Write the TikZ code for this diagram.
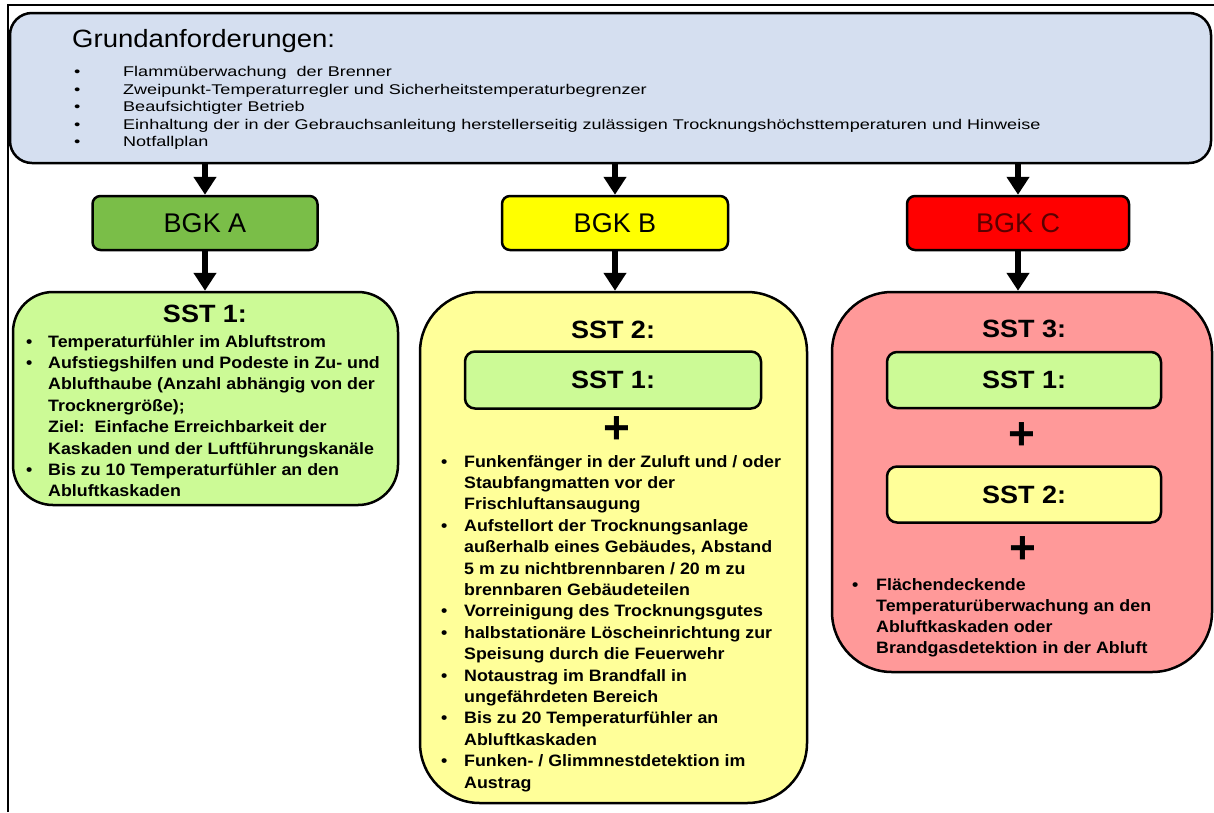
\documentclass[tikz,border=0pt]{standalone}
\usepackage{fontspec}
\setmainfont{Liberation Sans}
\newfontfamily\ttlfont[FakeStretch=1.1]{Liberation Sans}
\newfontfamily\topfont[FakeStretch=1.28]{Liberation Sans}
\newfontfamily\sstfont[FakeStretch=1.08]{Liberation Sans}
\usetikzlibrary{arrows.meta}
\definecolor{topblue}{RGB}{213,223,240}
\definecolor{bgkgreen}{RGB}{122,190,72}
\definecolor{bgkyellow}{RGB}{255,255,0}
\definecolor{bgkred}{RGB}{255,0,0}
\definecolor{bgkctext}{RGB}{90,0,0}
\definecolor{sstgreen}{RGB}{204,250,150}
\definecolor{sstyellow}{RGB}{255,255,153}
\definecolor{sstred}{RGB}{255,153,153}
\begin{document}
\begin{tikzpicture}[x=1pt,y=-1pt,
  box/.style={draw=black, line width=2.5pt, inner sep=0pt, anchor=center},
  bgkbox/.style={box, rounded corners=8pt, minimum height=54pt, font=\fontsize{27}{27}\selectfont},
  innerbox/.style={box, rounded corners=10pt, minimum width=274pt, minimum height=56pt, font=\sstfont\bfseries\fontsize{25}{25}\selectfont},
  head/.style={inner sep=0pt, anchor=center, font=\sstfont\bfseries\fontsize{25}{25}\selectfont},
  plus/.style={inner sep=0pt, anchor=center, font=\bfseries\fontsize{46}{46}\selectfont},
  lst/.style={inner sep=0pt, anchor=base west},
  arr/.style={line width=6pt, -{Triangle[length=18pt,width=22pt]}}]
\useasboundingbox (0,0) rectangle (1214,812);
% frame
\draw[line width=2pt] (8,812) -- (8,5) -- (1214,5);
% top box
\node[box, fill=topblue, rounded corners=22pt, minimum width=1201pt, minimum height=150pt] (top) at (610.5,88) {};
\node[inner sep=0pt, anchor=base west, font=\ttlfont\fontsize{25}{25}\selectfont] (ttl) at (72,47) {Grundanforderungen:};
\node[lst] (toplist) at (74,76.5) {\topfont\fontsize{14.1}{17.6}\selectfont
\begin{tabular}[t]{@{}p{49pt}@{}l@{}}
•&Flammüberwachung\ \ der Brenner\\
•&Zweipunkt-Temperaturregler und Sicherheitstemperaturbegrenzer\\
•&Beaufsichtigter Betrieb\\
•&Einhaltung der in der Gebrauchsanleitung herstellerseitig zulässigen Trocknungshöchsttemperaturen und Hinweise\\
•&Notfallplan
\end{tabular}};
% BGK boxes
\node[bgkbox, fill=bgkgreen, minimum width=225pt] (bgka) at (205,223) {BGK A};
\node[bgkbox, fill=bgkyellow, minimum width=226pt] (bgkb) at (615,223) {BGK B};
\node[bgkbox, fill=bgkred, minimum width=222pt, text=bgkctext] (bgkc) at (1018,223) {BGK C};
% SST boxes
\node[box, fill=sstgreen, rounded corners=40pt, minimum width=385pt, minimum height=213pt] (ssta) at (205.5,398.5) {};
\node[box, fill=sstyellow, rounded corners=60pt, minimum width=387pt, minimum height=511pt] (sstb) at (613.5,547.5) {};
\node[box, fill=sstred, rounded corners=60pt, minimum width=380pt, minimum height=380pt] (sstc) at (1022,482) {};
% arrows
\draw[arr] (top.south -| bgka.north) -- (bgka.north);
\draw[arr] (top.south -| bgkb.north) -- (bgkb.north);
\draw[arr] (top.south -| bgkc.north) -- (bgkc.north);
\draw[arr] (bgka.south) -- (ssta.north -| bgka.south);
\draw[arr] (bgkb.south) -- (sstb.north -| bgkb.south);
\draw[arr] (bgkc.south) -- (sstc.north -| bgkc.south);
% SST A
\node[head] (ha) at (205,314) {SST 1:};
\node[lst] (lista) at (26,347) {\sstfont\bfseries\fontsize{16.5}{21.4}\selectfont
\begin{tabular}[t]{@{}p{22pt}@{}l@{}}
•&Temperaturfühler im Abluftstrom\\
•&Aufstiegshilfen und Podeste in Zu- und\\
&Ablufthaube (Anzahl abhängig von der\\
&Trocknergröße);\\
&Ziel:\ \ Einfache Erreichbarkeit der\\
&Kaskaden und der Luftführungskanäle\\
•&Bis zu 10 Temperaturfühler an den\\
&Abluftkaskaden
\end{tabular}};
% SST B
\node[head] (hb) at (613,330) {SST 2:};
\node[innerbox, fill=sstgreen, minimum width=296pt, minimum height=57pt] (b1) at (613,380) {SST 1:};
\node[plus] (pb) at (617,430) {+};
\node[lst] (listb) at (441,467) {\sstfont\bfseries\fontsize{16.5}{21.4}\selectfont
\begin{tabular}[t]{@{}p{23pt}@{}l@{}}
•&Funkenfänger in der Zuluft und / oder\\
&Staubfangmatten vor der\\
&Frischluftansaugung\\
•&Aufstellort der Trocknungsanlage\\
&außerhalb eines Gebäudes, Abstand\\
&5 m zu nichtbrennbaren / 20 m zu\\
&brennbaren Gebäudeteilen\\
•&Vorreinigung des Trocknungsgutes\\
•&halbstationäre Löscheinrichtung zur\\
&Speisung durch die Feuerwehr\\
•&Notaustrag im Brandfall in\\
&ungefährdeten Bereich\\
•&Bis zu 20 Temperaturfühler an\\
&Abluftkaskaden\\
•&Funken- / Glimmnestdetektion im\\
&Austrag
\end{tabular}};
% SST C
\node[head] (hc) at (1024,329) {SST 3:};
\node[innerbox, fill=sstgreen] (c1) at (1024,380) {SST 1:};
\node[plus] (pc1) at (1022,436) {+};
\node[innerbox, fill=sstyellow] (c2) at (1024,494.5) {SST 2:};
\node[plus] (pc2) at (1023,550) {+};
\node[lst] (listc) at (852,590) {\sstfont\bfseries\fontsize{16.5}{21.3}\selectfont
\begin{tabular}[t]{@{}p{24pt}@{}l@{}}
•&Flächendeckende\\
&Temperaturüberwachung an den\\
&Abluftkaskaden oder\\
&Brandgasdetektion in der Abluft
\end{tabular}};
\end{tikzpicture}
\end{document}
